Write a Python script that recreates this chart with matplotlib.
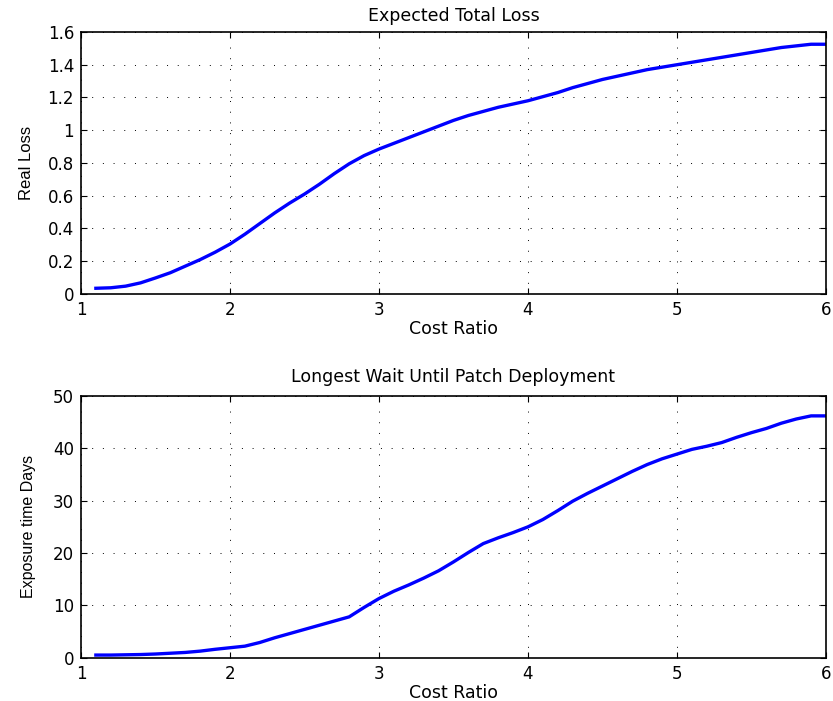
import matplotlib
matplotlib.use('Agg')
import matplotlib.pyplot as plt

# cost ratio samples
cost_ratio = [1.1, 1.2, 1.3, 1.4, 1.5, 1.6, 1.7, 1.8, 1.9, 2.0,
              2.1, 2.2, 2.3, 2.4, 2.5, 2.6, 2.7, 2.8, 2.9, 3.0,
              3.1, 3.2, 3.3, 3.4, 3.5, 3.6, 3.7, 3.8, 3.9, 4.0,
              4.1, 4.2, 4.3, 4.4, 4.5, 4.6, 4.7, 4.8, 4.9, 5.0,
              5.1, 5.2, 5.3, 5.4, 5.5, 5.6, 5.7, 5.8, 5.9, 6.0]

real_loss = [0.035, 0.038, 0.048, 0.068, 0.098, 0.13, 0.17, 0.21, 0.255, 0.305,
             0.365, 0.43, 0.495, 0.555, 0.61, 0.67, 0.735, 0.795, 0.845, 0.885,
             0.92, 0.955, 0.99, 1.025, 1.06, 1.09, 1.115, 1.14, 1.16, 1.18,
             1.205, 1.23, 1.26, 1.285, 1.31, 1.33, 1.35, 1.37, 1.385, 1.40,
             1.415, 1.43, 1.445, 1.46, 1.475, 1.49, 1.505, 1.515, 1.525, 1.525]

exposure_days = [0.5, 0.5, 0.55, 0.6, 0.7, 0.85, 1.0, 1.25, 1.6, 1.9,
                 2.2, 2.9, 3.8, 4.6, 5.4, 6.2, 7.0, 7.8, 9.6, 11.3,
                 12.7, 13.9, 15.2, 16.6, 18.3, 20.1, 21.8, 22.9, 23.9, 25.0,
                 26.4, 28.1, 29.9, 31.4, 32.8, 34.2, 35.6, 36.9, 38.0, 38.9,
                 39.8, 40.4, 41.1, 42.1, 43.0, 43.8, 44.8, 45.6, 46.2, 46.2]

x_ticks = [1, 2, 3, 4, 5, 6]
loss_ticks = [0, 0.2, 0.4, 0.6, 0.8, 1.0, 1.2, 1.4, 1.6]
loss_labels = ['0', '0.2', '0.4', '0.6', '0.8', '1', '1.2', '1.4', '1.6']
days_ticks = [0, 10, 20, 30, 40, 50]

plt.rcParams['font.family'] = ['DejaVu Sans']
ylab_font = ['Liberation Sans', 'DejaVu Sans']


def style_axes(ax):
    ax.grid(True, color='k', linestyle=(0, (1, 10)), linewidth=0.7)
    ax.tick_params(direction='in', top=True, right=True, length=4,
                   width=0.8, labelsize=12, pad=5)
    for s in ax.spines.values():
        s.set_linewidth(1.2)


fig = plt.figure(figsize=(8.33, 7.01), dpi=100)
ax1 = fig.add_axes([0.0972, 0.5806, 0.8944, 0.3738])
ax2 = fig.add_axes([0.0972, 0.0618, 0.8944, 0.3733])

ax1.plot(cost_ratio, real_loss, color='#0000ff', linewidth=2.4)
ax1.set_xlim(1, 6)
ax1.set_ylim(0, 1.6)
ax1.set_xticks(x_ticks)
ax1.set_yticks(loss_ticks)
ax1.set_yticklabels(loss_labels)
ax1.set_title('Expected Total Loss', fontsize=12.5, pad=8)
ax1.set_xlabel('Cost Ratio', fontsize=12.5, labelpad=1)
ax1.set_ylabel('Real Loss', fontsize=12, labelpad=10, family=ylab_font)
style_axes(ax1)

ax2.plot(cost_ratio, exposure_days, color='#0000ff', linewidth=2.4)
ax2.set_xlim(1, 6)
ax2.set_ylim(0, 50)
ax2.set_xticks(x_ticks)
ax2.set_yticks(days_ticks)
ax2.set_title('Longest Wait Until Patch Deployment', fontsize=12.5, pad=10)
ax2.set_xlabel('Cost Ratio', fontsize=12.5, labelpad=1)
ax2.set_ylabel('Exposure time Days', fontsize=11.5, labelpad=12,
               family=ylab_font)
style_axes(ax2)

fig.savefig('out.png', dpi=100)
